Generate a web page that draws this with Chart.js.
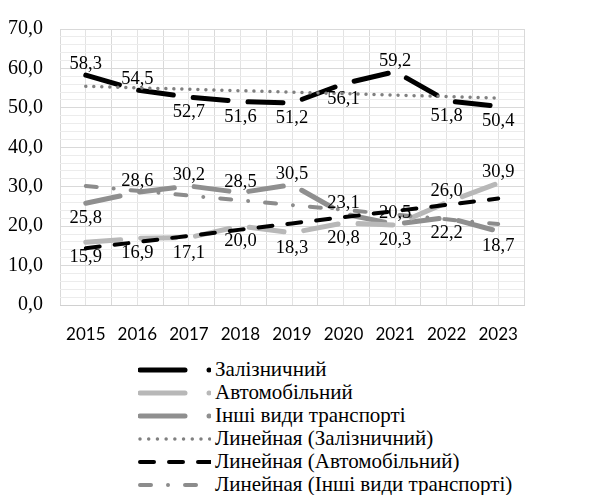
<!DOCTYPE html>
<html>
<head>
<meta charset="utf-8">
<script src="https://cdn.jsdelivr.net/npm/chart.js@4"></script>
<style>
  body { margin: 0; background: #fff; }
  #wrap { position: relative; width: 611px; height: 495px; overflow: hidden; background: #fff; }
  #chart-box { position: absolute; left: 0; top: 0; width: 611px; height: 350px; }
  #legend { position: absolute; left: 138px; top: 358px; font: 21px "Liberation Serif", serif; color: #000; }
  .lg-row { display: flex; align-items: center; height: 23px; white-space: nowrap; }
  .lg-row svg { flex: none; margin-right: 4px; }
</style>
</head>
<body>
<div id="wrap">
  <div id="chart-box"><canvas id="transport-chart" width="611" height="350"></canvas></div>
  <div id="legend"></div>
</div>
<script>
const years = ["2015", "2016", "2017", "2018", "2019", "2020", "2021", "2022", "2023"];
const railway = [58.3, 54.5, 52.7, 51.6, 51.2, 56.1, 59.2, 51.8, 50.4];
const automobile = [15.9, 16.9, 17.1, 20.0, 18.3, 20.8, 20.3, 26.0, 30.9];
const otherTransport = [25.8, 28.6, 30.2, 28.5, 30.5, 23.1, 20.5, 22.2, 18.7];
const seriesNames = ["Залізничний", "Автомобільний", "Інші види транспорті"];

// where each value label sits: a = above the point, b = below
const railwayLabelPos = ["a", "a", "b", "b", "b", "b", "a", "b", "b"];
const automobileLabelPos = ["b", "b", "b", "b", "b", "b", "b", "a", "a"];
const otherLabelPos = ["b", "a", "a", "a", "a", "a", "a", "b", "b"];

const COLORS = { railway: "#000000", automobile: "#b8b8b8", other: "#8f8f8f", railTrend: "#808080", otherTrend: "#8c8c8c" };

// excel style linear trendline (least squares over the category index)
function linearTrend(values) {
  const n = values.length;
  const mx = (n - 1) / 2;
  const my = values.reduce((s, v) => s + v, 0) / n;
  let num = 0, den = 0;
  values.forEach((v, i) => { num += (i - mx) * (v - my); den += (i - mx) * (i - mx); });
  const slope = num / den;
  return values.map((_, i) => my + slope * (i - mx));
}

const fmt = v => v.toFixed(1).replace(".", ",");

const seriesStyle = { borderWidth: 5, borderDash: [35, 20], borderCapStyle: "round", pointRadius: 0, fill: false, tension: 0, order: 1 };

const valueLabels = {
  id: "valueLabels",
  afterDatasetsDraw(chart) {
    const ctx = chart.ctx;
    ctx.save();
    ctx.font = '18.5px "Liberation Serif"';
    ctx.fillStyle = "#000";
    ctx.textAlign = "center";
    [railwayLabelPos, automobileLabelPos, otherLabelPos].forEach((pos, di) => {
      const meta = chart.getDatasetMeta(di);
      meta.data.forEach((pt, i) => {
        const text = fmt(chart.data.datasets[di].data[i]);
        if (pos[i] === "a") {
          ctx.textBaseline = "alphabetic";
          ctx.fillText(text, pt.x, pt.y - 6);
        } else {
          ctx.textBaseline = "top";
          ctx.fillText(text, pt.x, pt.y + 6);
        }
      });
    });
    ctx.restore();
  }
};

new Chart(document.getElementById("transport-chart"), {
  type: "line",
  data: {
    labels: years,
    datasets: [
      { label: seriesNames[0], data: railway, borderColor: COLORS.railway, ...seriesStyle },
      { label: seriesNames[1], data: automobile, borderColor: COLORS.automobile, ...seriesStyle },
      { label: seriesNames[2], data: otherTransport, borderColor: COLORS.other, ...seriesStyle },
      { label: "Линейная (" + seriesNames[0] + ")", data: linearTrend(railway), borderColor: COLORS.railTrend, borderWidth: 3.5, borderDash: [0.01, 8], borderCapStyle: "round", pointRadius: 0, order: 0 },
      { label: "Линейная (" + seriesNames[1] + ")", data: linearTrend(automobile), borderColor: "#000", borderWidth: 4, borderDash: [14, 15], borderCapStyle: "round", pointRadius: 0, order: 0 },
      { label: "Линейная (" + seriesNames[2] + ")", data: linearTrend(otherTransport), borderColor: COLORS.otherTrend, borderWidth: 4, borderDash: [11, 17, 0.01, 17], borderCapStyle: "round", pointRadius: 0, order: 0 },
    ]
  },
  options: {
    responsive: false,
    animation: false,
    layout: { padding: { left: 0, top: 25, right: 87, bottom: 0 } },
    plugins: { legend: { display: false }, tooltip: { enabled: false } },
    scales: {
      x: {
        offset: true,
        grid: { offset: true, color: "#d9d9d9", drawTicks: false },
        border: { color: "#d0d0d0" },
        ticks: { font: { family: "Lato", size: 17 }, color: "#000", padding: 19, maxRotation: 0 },
        afterFit: s => { s.height = 45; }
      },
      x2: {
        type: "category",
        offset: true,
        position: "bottom",
        grid: { offset: false, color: "#e3e3e3", drawTicks: false },
        border: { display: false },
        ticks: { display: false },
        afterFit: s => { s.height = 0; }
      },
      y: {
        min: 0,
        max: 70,
        grid: { drawTicks: false, color: c => (c.tick.value % 10 === 0 ? "#d9d9d9" : "#ececec") },
        border: { display: false },
        ticks: {
          stepSize: 2,
          autoSkip: false,
          padding: 17,
          color: "#000",
          font: { family: "Liberation Serif", size: 20 },
          callback: v => (v % 10 === 0 ? fmt(v) : "")
        },
        afterFit: s => { s.width = 60; }
      }
    }
  },
  plugins: [valueLabels]
});

// legend: vertical list under the plot, like the original workbook
const legendItems = [
  { text: seriesNames[0], stroke: COLORS.railway, width: 5, dash: "", len: 47, dot: COLORS.railway },
  { text: seriesNames[1], stroke: COLORS.automobile, width: 5, dash: "", len: 47, dot: COLORS.automobile },
  { text: seriesNames[2], stroke: COLORS.other, width: 5, dash: "", len: 47, dot: COLORS.other },
  { text: "Линейная (" + seriesNames[0] + ")", stroke: COLORS.railTrend, width: 3.5, dash: "0.01 8.7", len: 72 },
  { text: "Линейная (" + seriesNames[1] + ")", stroke: "#000", width: 4, dash: "14 15", len: 76 },
  { text: "Линейная (" + seriesNames[2] + ")", stroke: COLORS.otherTrend, width: 4, dash: "11 17 0.01 17", len: 66 },
];
document.getElementById("legend").innerHTML = legendItems.map(item => `
  <div class="lg-row">
    <svg width="73" height="12">
      <line x1="2" y1="6" x2="${item.len}" y2="6" stroke="${item.stroke}" stroke-width="${item.width}" stroke-linecap="round" ${item.dash ? `stroke-dasharray="${item.dash}"` : ""}/>
      ${item.dot ? `<circle cx="71" cy="6" r="2.5" fill="${item.dot}"/>` : ""}
    </svg>
    <span>${item.text}</span>
  </div>`).join("");
</script>
</body>
</html>
